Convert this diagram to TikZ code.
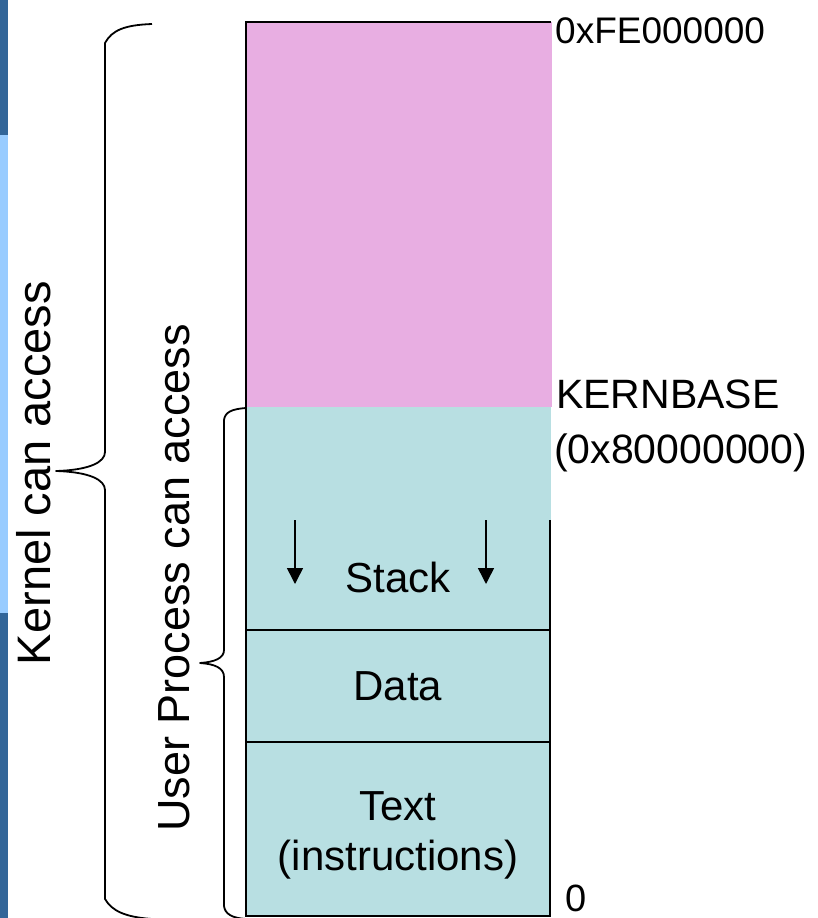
\documentclass[tikz,border=0pt]{standalone}
\usepackage{fontspec}
\setmainfont{Liberation Sans}
\usetikzlibrary{arrows.meta}
\definecolor{kernpink}{RGB}{232,174,226}
\definecolor{userteal}{RGB}{184,223,226}
\definecolor{stripdark}{RGB}{51,102,153}
\definecolor{striplight}{RGB}{153,204,255}
\tikzset{
  memline/.style={line width=1.8pt, black},
  bracepath/.style={line width=1.8pt, black, line join=round},
  growarrow/.style={line width=1.5pt, -{Triangle[width=16pt,length=16pt]}},
  segtext/.style={inner sep=0pt, font=\fontsize{42}{50}\selectfont},
  addrtext/.style={inner sep=0pt, anchor=base west, font=\fontsize{41}{49}\selectfont},
  sidetext/.style={inner sep=0pt, anchor=base, rotate=90, font=\fontsize{45}{54}\selectfont}
}
\begin{document}
\begin{tikzpicture}[x=1pt,y=-1pt]
\useasboundingbox (0,0) rectangle (817,918);

% slide side strip
\fill[stripdark] (0,0) rectangle (8,135);
\fill[striplight] (0,135) rectangle (8,613);
\fill[stripdark] (0,613) rectangle (8,918);

% address space regions
\fill[kernpink] (246,22) rectangle (552,407);
\fill[userteal] (246,407) rectangle (551,916);

% outlines and segment boundaries
\draw[memline] (551,22) -- (246,22) -- (246,916) -- (550,916) -- (550,520);
\draw[memline] (246,630) -- (550,630);
\draw[memline] (246,742) -- (550,742);

% stack growth arrows
\coordinate (sl0) at (295,520);
\coordinate (sl1) at (295,584);
\coordinate (sr0) at (486,520);
\coordinate (sr1) at (486,584);
\draw[growarrow] (sl0) -- (sl1);
\draw[growarrow] (sr0) -- (sr1);

% segment labels
\node[segtext] (stack) at (398,577) {Stack};
\node[segtext] (data) at (398,686) {Data};
\node[segtext, anchor=base] (text) at (398,820) {Text};
\node[segtext, anchor=base] (instr) at (398,870) {(instructions)};

% address labels
\node[addrtext, font=\fontsize{37}{44}\selectfont] (top) at (555,43) {0xFE000000};
\node[addrtext] (kb) at (556,408) {KERNBASE};
\node[addrtext] (kbaddr) at (554,463) {(0x80000000)};
\node[addrtext, font=\fontsize{38}{45}\selectfont] (zero) at (565,911) {0};

% braces
\draw[bracepath] (152,24) .. controls (125,25) and (112,30) .. (105,43)
  -- (105,452) .. controls (105,462) and (90,470) .. (56,471)
  .. controls (90,472) and (105,480) .. (105,490)
  -- (105,899) .. controls (112,911) and (125,917) .. (152,919);
\draw[bracepath] (246,408) .. controls (232,409) and (225,412) .. (224,420)
  -- (224,650) .. controls (224,658) and (215,662) .. (200,663)
  .. controls (215,664) and (224,668) .. (224,677)
  -- (224,906) .. controls (225,914) and (232,918) .. (246,919);

% access labels
\node[sidetext, font=\fontsize{47}{56}\selectfont] (kernacc) at (50,473) {Kernel can access};
\node[sidetext] (useracc) at (189,578) {User Process can access};
\end{tikzpicture}
\end{document}
